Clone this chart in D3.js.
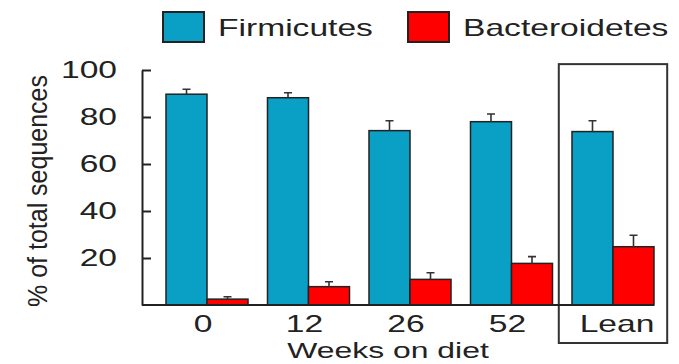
<!DOCTYPE html>
<html>
<head>
<meta charset="utf-8">
<script src="https://cdn.jsdelivr.net/npm/d3@7"></script>
<style>
  html, body { margin: 0; padding: 0; background: #fff; }
  svg { display: block; }
  text { font-family: "Liberation Sans", Arial, sans-serif; fill: #222; }
</style>
</head>
<body>
<svg id="chart" width="679" height="364"></svg>
<script>
// ---- data ----
const categories = ["0", "12", "26", "52", "Lean"];
const seriesNames = ["Firmicutes", "Bacteroidetes"];
const firmicutes = [89.7, 88.2, 74.2, 78.0, 73.8];
const firmicutesErr = [2.1, 2.1, 4.2, 3.3, 4.6];
const bacteroidetes = [2.5, 7.8, 10.9, 17.7, 24.8];
const bacteroidetesErr = [1.0, 2.1, 2.8, 2.9, 4.9];
const yTicks = [20, 40, 60, 80, 100];
const colors = ["#0a9fc5", "#ff0000"];
const yLabel = "% of total sequences";
const xLabel = "Weeks on diet";

const SX = 1.4; // horizontal stretch of the reference text
const svg = d3.select("#chart");

const x = d3.scaleBand().domain(categories).range([166, 654]).paddingInner(0.192).paddingOuter(0);
const xs = d3.scaleBand().domain(seriesNames).range([0, x.bandwidth()]).padding(0);
const y = d3.scaleLinear().domain([0, 100]).range([305, 70]);
const color = d3.scaleOrdinal().domain(seriesNames).range(colors);
const axisX = 142;

const rows = categories.map((c, i) => ({
  cat: c,
  vals: [
    { s: seriesNames[0], v: firmicutes[i], e: firmicutesErr[i] },
    { s: seriesNames[1], v: bacteroidetes[i], e: bacteroidetesErr[i] }
  ]
}));

// Lean box
const step = x.step();
svg.append("rect")
  .attr("x", x("Lean") - step * 0.13)
  .attr("y", y(102.5))
  .attr("width", x.bandwidth() + step * 0.26)
  .attr("height", 343 - y(102.5))
  .attr("fill", "none").attr("stroke", "#333").attr("stroke-width", 2);

// bars
const g = svg.append("g");
const grp = g.selectAll("g.grp").data(rows).join("g")
  .attr("transform", d => `translate(${x(d.cat)},0)`);
grp.selectAll("rect").data(d => d.vals).join("rect")
  .attr("x", d => xs(d.s))
  .attr("y", d => y(d.v))
  .attr("width", xs.bandwidth())
  .attr("height", d => y(0) - y(d.v))
  .attr("fill", d => color(d.s))
  .attr("stroke", "#222").attr("stroke-width", 1.5);
// error bars
grp.selectAll("path.err").data(d => d.vals).join("path")
  .attr("class", "err")
  .attr("d", d => {
    const cx = xs(d.s) + xs.bandwidth() / 2;
    return `M${cx},${y(d.v)}V${y(d.v + d.e)}M${cx - 4},${y(d.v + d.e)}H${cx + 4}`;
  })
  .attr("stroke", "#333").attr("stroke-width", 1.6).attr("fill", "none");

// y axis
const yAxis = d3.axisLeft(y).tickValues(yTicks).tickSizeInner(-9).tickSizeOuter(0).tickPadding(25);
const ya = svg.append("g").attr("transform", `translate(${axisX},0)`).call(yAxis);
ya.select(".domain").attr("stroke", "#222").attr("stroke-width", 2);
ya.selectAll(".tick line").attr("stroke", "#222").attr("stroke-width", 2);
ya.selectAll(".tick text")
  .attr("x", null)
  .attr("transform", `translate(-25,0) scale(${SX},1)`)
  .style("font-size", "24px").style("fill", "#222")
  .attr("font-family", null);

// baseline
svg.append("line")
  .attr("x1", axisX).attr("x2", x.range()[1])
  .attr("y1", y(0)).attr("y2", y(0))
  .attr("stroke", "#222").attr("stroke-width", 2);

// x tick labels
svg.append("g").selectAll("text").data(categories).join("text")
  .attr("transform", d => `translate(${x(d) + x.bandwidth() / 2 - (d === "Lean" ? -4 : 4)},332) scale(${SX},1)`)
  .attr("text-anchor", "middle")
  .style("font-size", "24px")
  .text(d => d);

// x label
svg.append("text")
  .attr("transform", `translate(388,358) scale(${SX + 0.05},1)`)
  .attr("text-anchor", "middle")
  .style("font-size", "22px")
  .text(xLabel);

// y label
svg.append("text")
  .attr("transform", `translate(47,191) rotate(-90) scale(1,1.12)`)
  .attr("text-anchor", "middle")
  .style("font-size", "25px")
  .text(yLabel);

// legend
const legendX = [163, 408];
const leg = svg.append("g").selectAll("g").data(seriesNames).join("g")
  .attr("transform", (d, i) => `translate(${legendX[i]},12)`);
leg.append("rect")
  .attr("width", 41).attr("height", 30)
  .attr("fill", d => color(d))
  .attr("stroke", "#222").attr("stroke-width", 2);
leg.append("text")
  .attr("transform", `translate(55,24) scale(${SX},1)`)
  .style("font-size", "24px")
  .text(d => d);
</script>
</body>
</html>
